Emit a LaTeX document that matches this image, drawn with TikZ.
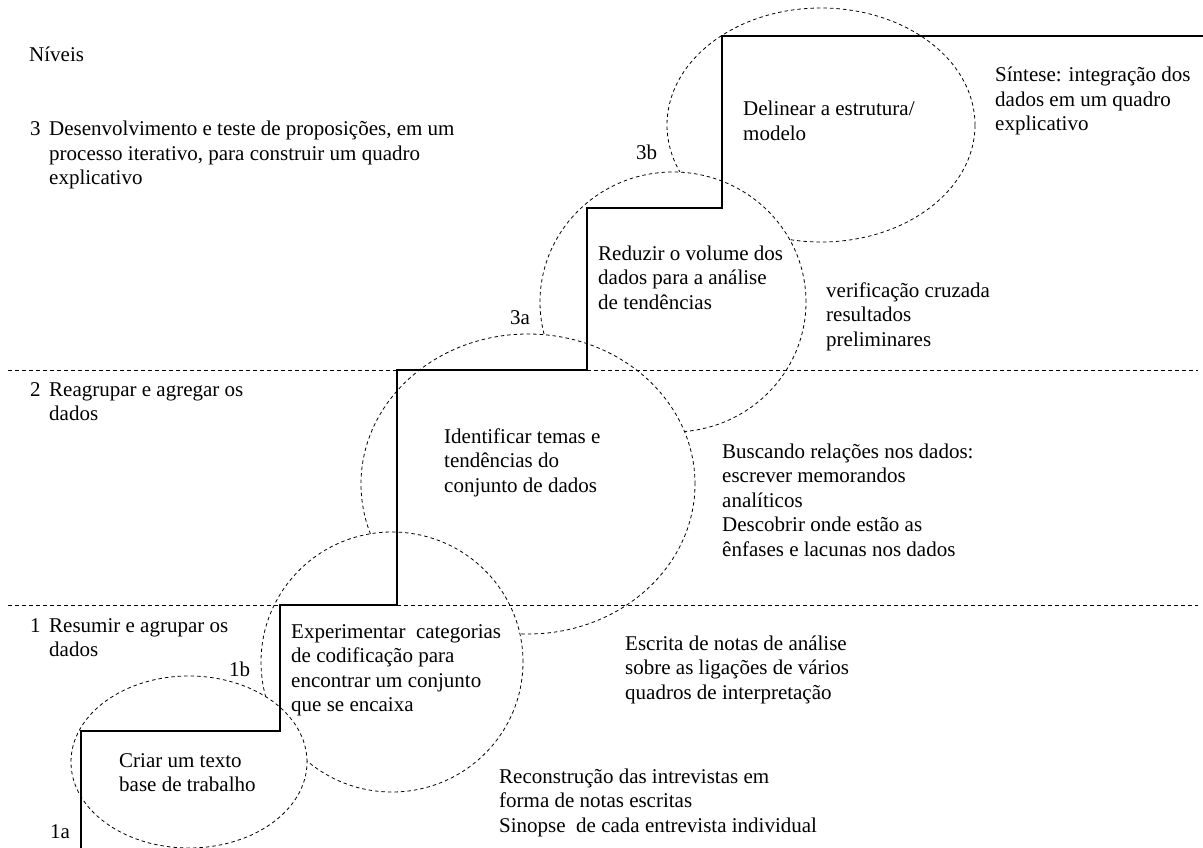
\documentclass[tikz,border=0pt]{standalone}
\usepackage{fontspec}
\setmainfont{Liberation Serif}
\usetikzlibrary{shapes.geometric}
\newcommand\mlines[1]{\begin{tabular}[t]{@{}l@{}}#1\end{tabular}}
\begin{document}
\begin{tikzpicture}[x=1pt,y=-1pt,
  bubble/.style={ellipse, draw, dash pattern=on 3.5pt off 3pt, line width=0.8pt, fill=white, inner sep=0pt},
  level/.style={dash pattern=on 4pt off 3pt, line width=0.8pt},
  stair/.style={line width=2pt, line join=miter},
  txt/.style={anchor=base west, inner sep=0pt, font=\fontsize{21}{24.5}\selectfont},
]
\useasboundingbox (0,0) rectangle (1203,848);
% ellipses (drawn from top to bottom so lower ones cover upper ones)
\node[bubble, minimum width=308pt, minimum height=234pt] (e5) at (821,125) {};
\node[bubble, minimum width=266pt, minimum height=260pt] (e4) at (673,302) {};
\node[bubble, minimum width=334pt, minimum height=300pt] (e3) at (528,484) {};
\node[bubble, minimum width=262pt, minimum height=260pt] (e2) at (392,662) {};
\node[bubble, minimum width=236pt, minimum height=172pt] (e1) at (189,762) {};
% level lines
\coordinate (l2a) at (8,370);  \coordinate (l2b) at (397,370);
\coordinate (l2c) at (587,370); \coordinate (l2d) at (1198,370);
\coordinate (l1a) at (8,605);  \coordinate (l1b) at (280,605);
\coordinate (l1c) at (397,605); \coordinate (l1d) at (1198,605);
\draw[level] (l2a) -- (l2b);
\draw[level] (l2c) -- (l2d);
\draw[level] (l1a) -- (l1b);
\draw[level] (l1c) -- (l1d);
% staircase
\draw[stair] (81,848) -- (81,731) -- (280,731) -- (280,605) -- (397,605) -- (397,370)
  -- (587,370) -- (587,208) -- (722,208) -- (722,36) -- (1203,36);
% left column
\node[txt] (niveis) at (29,62) {Níveis};
\node[txt] (n3) at (30,136) {3};
\node[txt] (t3) at (49,136) {\mlines{Desenvolvimento e teste de proposições, em um\\processo iterativo, para construir um quadro\\explicativo}};
\node[txt] (n2) at (30,396) {2};
\node[txt] (t2) at (49,396) {\mlines{Reagrupar e agregar os\\dados}};
\node[txt] (n1) at (30,632) {1};
\node[txt] (t1) at (49,632) {\mlines{Resumir e agrupar os\\dados}};
% step labels
\node[txt] (s1a) at (50,838) {1a};
\node[txt] (s1b) at (229,676) {1b};
\node[txt] (s3a) at (510,324) {3a};
\node[txt] (s3b) at (636,160) {3b};
% ellipse texts
\node[txt] (c1) at (119,767) {\mlines{Criar um texto\\base de trabalho}};
\node[txt] (c2) at (291,638) {\mlines{Experimentar\ \ categorias\\de codificação para\\encontrar um conjunto\\que se encaixa}};
\node[txt] (c3) at (444,443) {\mlines{Identificar temas e\\tendências do\\conjunto de dados}};
\node[txt] (c4) at (598,260) {\mlines{Reduzir o volume dos\\dados para a análise\\de tendências}};
\node[txt] (c5) at (743,116) {\mlines{Delinear a estrutura/\\modelo}};
% right texts
\node[txt] (r5) at (995,82) {\mlines{Síntese: integração dos\\dados em um quadro\\explicativo}};
\node[txt] (r4) at (826,297) {\mlines{verificação cruzada\\resultados\\preliminares}};
\node[txt] (r3) at (722,458) {\mlines{Buscando relações nos dados:\\escrever memorandos\\analíticos\\Descobrir onde estão as\\ênfases e lacunas nos dados}};
\node[txt] (r2) at (625,650) {\mlines{Escrita de notas de análise\\sobre as ligações de vários\\quadros de interpretação}};
\node[txt] (r1) at (499,783) {\mlines{Reconstrução das intrevistas em\\forma de notas escritas\\Sinopse\ \ de cada entrevista individual}};
\end{tikzpicture}
\end{document}
